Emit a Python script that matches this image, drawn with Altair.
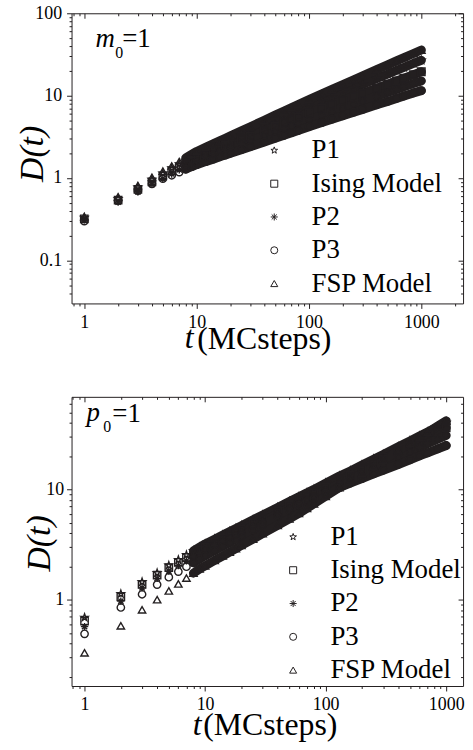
import altair as alt
import pandas as pd

FONT = "Liberation Serif"
INK = "#231f20"

# time steps (MC steps) at which values were read
T = [1, 2, 3, 4, 5, 6, 7, 8, 9, 10, 12, 14, 16, 18, 20, 25, 30, 40, 50, 60,
     70, 80, 100, 130, 160, 200, 250, 300, 400, 500, 600, 700, 850, 1000]

SERIES = ["P1", "Ising Model", "P2", "P3", "FSP Model"]

# ---- upper panel: m0 = 1 ----
A_P1 = [0.33, 0.56, 0.77, 0.96, 1.14, 1.32, 1.48, 1.64, 1.80, 1.95, 2.17, 2.37, 2.56, 2.74, 2.92, 3.32, 3.69,
        4.36, 4.96, 5.52, 6.03, 6.52, 7.41, 8.58, 9.64, 10.9, 12.4, 13.7, 16.1, 18.2, 20.2, 22.0, 24.6, 26.9]
A_ISING = [0.32, 0.54, 0.73, 0.90, 1.06, 1.22, 1.36, 1.51, 1.65, 1.78, 1.96, 2.13, 2.29, 2.45, 2.59, 2.92, 3.22,
           3.76, 4.25, 4.69, 5.09, 5.47, 6.17, 7.03, 7.80, 8.72, 9.75, 10.7, 12.3, 13.8, 15.1, 16.3, 18.0, 19.5]
A_P2 = [0.31, 0.51, 0.68, 0.84, 0.98, 1.12, 1.26, 1.38, 1.50, 1.62, 1.77, 1.92, 2.05, 2.17, 2.29, 2.56, 2.81,
        3.24, 3.62, 3.97, 4.29, 4.58, 5.12, 5.79, 6.38, 7.09, 7.87, 8.58, 9.83, 10.9, 11.9, 12.8, 14.0, 15.1]
A_P3 = [0.30, 0.53, 0.70, 0.85, 0.98, 1.08, 1.18, 1.28, 1.37, 1.45, 1.58, 1.69, 1.81, 1.90, 2.00, 2.21, 2.40,
        2.74, 3.04, 3.30, 3.55, 3.77, 4.20, 4.71, 5.17, 5.70, 6.29, 6.80, 7.73, 8.50, 9.24, 9.90, 10.8, 11.5]
A_FSP = [0.34, 0.59, 0.81, 1.02, 1.21, 1.40, 1.58, 1.76, 1.93, 2.10, 2.36, 2.60, 2.82, 3.04, 3.25, 3.74, 4.19,
         5.03, 5.80, 6.50, 7.16, 7.78, 8.96, 10.5, 11.9, 13.6, 15.6, 17.4, 20.7, 23.6, 26.4, 28.9, 32.5, 35.8]

# ---- lower panel: p0 = 1 ----
B_P1 = [0.69, 1.13, 1.45, 1.75, 2.05, 2.30, 2.55, 2.77, 2.99, 3.20, 3.54, 3.85, 4.14, 4.42, 4.69, 5.30, 5.85,
        6.85, 7.76, 8.57, 9.33, 10.0, 11.4, 13.2, 14.7, 16.6, 18.8, 20.7, 24.3, 27.5, 30.4, 33.1, 36.8, 40.3]
B_ISING = [0.64, 1.06, 1.38, 1.67, 1.95, 2.18, 2.41, 2.62, 2.82, 3.00, 3.31, 3.60, 3.87, 4.12, 4.36, 4.92, 5.43,
           6.34, 7.16, 7.90, 8.59, 9.22, 10.4, 12.0, 13.4, 15.1, 17.1, 18.8, 22.0, 24.8, 27.4, 29.8, 33.1, 36.1]
B_P2 = [0.57, 0.97, 1.28, 1.56, 1.82, 2.04, 2.25, 2.45, 2.64, 2.82, 3.11, 3.38, 3.64, 3.87, 4.10, 4.63, 5.11,
        5.97, 6.74, 7.44, 8.08, 8.69, 9.80, 11.2, 12.4, 13.8, 15.5, 17.0, 19.6, 21.9, 24.0, 25.9, 28.5, 30.9]
B_P3 = [0.49, 0.85, 1.12, 1.37, 1.60, 1.80, 1.99, 2.16, 2.33, 2.50, 2.79, 3.05, 3.30, 3.54, 3.76, 4.29, 4.78,
        5.66, 6.46, 7.19, 7.77, 8.30, 9.28, 10.4, 11.4, 12.5, 13.8, 14.9, 16.8, 18.5, 20.1, 21.4, 23.3, 25.0]
B_FSP = [0.33, 0.58, 0.81, 1.00, 1.20, 1.39, 1.57, 1.74, 1.90, 2.03, 2.27, 2.49, 2.70, 2.90, 3.10, 3.55, 3.97,
         4.73, 5.41, 6.05, 6.74, 7.40, 8.65, 10.4, 11.9, 13.9, 16.2, 18.4, 22.4, 26.1, 29.5, 32.8, 37.5, 41.9]

# tick values
A_XMAJ = [1, 10, 100, 1000]
A_XMIN = [0.8, 0.9, 2, 3, 4, 5, 6, 7, 8, 9, 20, 30, 40, 50, 60, 70, 80, 90,
          200, 300, 400, 500, 600, 700, 800, 900, 2000]
A_YMAJ = [0.1, 1, 10, 100]
A_YMIN = [0.04, 0.05, 0.06, 0.07, 0.08, 0.09, 0.2, 0.3, 0.4, 0.5, 0.6, 0.7, 0.8, 0.9,
          2, 3, 4, 5, 6, 7, 8, 9, 20, 30, 40, 50, 60, 70, 80, 90]
B_XMAJ = [1, 10, 100, 1000]
B_XMIN = [0.8, 0.9, 2, 3, 4, 5, 6, 7, 8, 9, 20, 30, 40, 50, 60, 70, 80, 90,
          200, 300, 400, 500, 600, 700, 800, 900]
B_YMAJ = [1, 10]
B_YMIN = [0.2, 0.3, 0.4, 0.5, 0.6, 0.7, 0.8, 0.9, 2, 3, 4, 5, 6, 7, 8, 9, 20, 30, 40, 50, 60]

STAR = ("M0,-1L0.235,-0.324L0.951,-0.309L0.38,0.124L0.588,0.809L0,0.4"
        "L-0.588,0.809L-0.38,0.124L-0.951,-0.309L-0.235,-0.324Z")
ASTER = "M-1,0L1,0M0,-1L0,1M-0.72,-0.72L0.72,0.72M-0.72,0.72L0.72,-0.72"
SHAPES = [STAR, "square", ASTER, "circle", "triangle-up"]

LABEL_EXPR = "datum.value >= 1 ? format(datum.value, 'd') : format(datum.value, '.1f')"


def make_df(values):
    rows = []
    for name, ys in zip(SERIES, values):
        for t, d in zip(T, ys):
            rows.append({"t": t, "D": d, "series": name})
    return pd.DataFrame(rows)


def txt(s, x, y, size, style="normal"):
    return alt.Chart(pd.DataFrame({"k": [0]})).mark_text(
        text=s, font=FONT, fontSize=size, fontStyle=style, color="black",
        align="left", baseline="alphabetic"
    ).encode(x=alt.value(x), y=alt.value(y))


def panel(df, W, H, xdom, ydom, xmaj, xmin, ymaj, ymin, ytx, yty, xtx, xty,
          tx, ty, lx, ly, annot, ylabpad):
    xs = alt.Scale(type="log", domain=xdom, nice=False)
    ys = alt.Scale(type="log", domain=ydom, nice=False)
    base = alt.Chart(df)

    common = dict(domain=False, grid=False, tickColor=INK, tickWidth=1)
    x_main = alt.Axis(orient="bottom", values=xmaj, tickSize=5, labelExpr=LABEL_EXPR,
                      labelFont=FONT, labelFontSize=18, labelColor="black", labelPadding=5,
                      labelFlush=False, labelOverlap=False,
                      title="(MCsteps)", titleFont=FONT, titleFontSize=32,
                      titleFontWeight="normal", titleColor="black", titleX=xtx, titleY=xty,
                      titleAlign="left", titleBaseline="alphabetic", **common)
    y_main = alt.Axis(orient="left", values=ymaj, tickSize=5, labelExpr=LABEL_EXPR,
                      labelFont=FONT, labelFontSize=18, labelColor="black", labelPadding=ylabpad,
                      labelFlush=False, labelOverlap=False,
                      title="D(t)", titleFont=FONT, titleFontSize=34, titleFontStyle="italic",
                      titleFontWeight="normal", titleColor="black", titleAngle=270,
                      titleX=ytx, titleY=yty, titleAlign="center", titleBaseline="alphabetic",
                      **common)
    x_minor = alt.Axis(orient="bottom", values=xmin, tickSize=2.5, labels=False, title=None, **common)
    y_minor = alt.Axis(orient="left", values=ymin, tickSize=2.5, labels=False, title=None, **common)
    x_top = alt.Axis(orient="bottom", offset=-H, values=xmaj, tickSize=5, labels=False, title=None, **common)
    y_right = alt.Axis(orient="left", offset=-W, values=ymaj, tickSize=5, labels=False, title=None, **common)
    x_top_m = alt.Axis(orient="bottom", offset=-H, values=xmin, tickSize=2.5, labels=False, title=None, **common)
    y_right_m = alt.Axis(orient="left", offset=-W, values=ymin, tickSize=2.5, labels=False, title=None, **common)

    band = base.transform_filter("datum.t >= 8").mark_line(
        color=INK, strokeWidth=9, strokeJoin="round", strokeCap="round"
    ).encode(
        x=alt.X("t:Q", scale=xs, axis=None),
        y=alt.Y("D:Q", scale=ys, axis=None),
        detail="series:N",
    )
    pts = base.mark_point(filled=False, color=INK, size=55, strokeWidth=1.4, opacity=1).encode(
        x=alt.X("t:Q", scale=xs, axis=x_main),
        y=alt.Y("D:Q", scale=ys, axis=y_main),
        shape=alt.Shape(
            "series:N",
            scale=alt.Scale(domain=SERIES, range=SHAPES),
            legend=alt.Legend(
                orient="none", legendX=lx, legendY=ly, title=None,
                labelFont=FONT, labelFontSize=27, labelColor="black", labelOffset=24,
                rowPadding=5.5, symbolSize=50, symbolStrokeWidth=1,
                symbolStrokeColor=INK, symbolFillColor="transparent", padding=0,
            ),
        ),
    )

    def ghost(ax, ay):
        return base.mark_point(opacity=0).encode(
            x=alt.X("t:Q", scale=xs, axis=ax),
            y=alt.Y("D:Q", scale=ys, axis=ay),
        )

    layers = [band, pts, ghost(x_minor, y_minor), ghost(x_top, y_right), ghost(x_top_m, y_right_m),
              txt("t", tx, ty, 32, "italic")]
    for s, x, y, size, style in annot:
        layers.append(txt(s, x, y, size, style))

    return alt.layer(*layers).resolve_axis(x="independent", y="independent").properties(width=W, height=H)


top = panel(
    make_df([A_P1, A_ISING, A_P2, A_P3, A_FSP]), 394, 292,
    [0.77, 2350], [0.03, 100], A_XMAJ, A_XMIN, A_YMAJ, A_YMIN,
    ytx=-29, yty=141, xtx=126, xty=45, tx=114, ty=337, lx=190.5, ly=124.5,
    annot=[("m", 24, 34, 27, "italic"), ("0", 44, 45, 16, "normal"), ("=1", 51, 34, 27, "normal")],
    ylabpad=5,
)
bottom = panel(
    make_df([B_P1, B_ISING, B_P2, B_P3, B_FSP]), 394, 291,
    [0.78, 1380], [0.165, 69], B_XMAJ, B_XMIN, B_YMAJ, B_YMIN,
    ytx=-22, yty=147, xtx=132, xty=49, tx=122, ty=340, lx=209.5, ly=127.5,
    annot=[("p", 15, 24, 27, "italic"), ("0", 32, 35, 16, "normal"), ("=1", 41, 25, 27, "normal")],
    ylabpad=3,
)

chart = alt.vconcat(top, bottom, spacing=94, bounds="flush").resolve_legend(
    shape="independent"
).properties(
    padding={"left": 15, "top": 1, "right": 8, "bottom": 0}
).configure(background="white").configure_view(stroke=INK, strokeWidth=1)

chart.save("out.html", embed_options={"renderer": "svg", "actions": False})
